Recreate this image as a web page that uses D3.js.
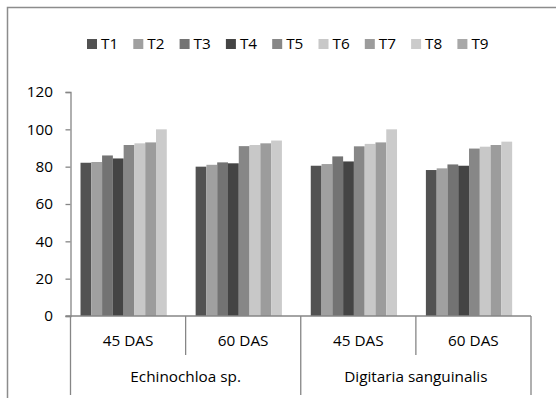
<!DOCTYPE html>
<html>
<head>
<meta charset="utf-8">
<script src="https://cdn.jsdelivr.net/npm/d3@7"></script>
<style>
  html, body { margin: 0; padding: 0; background: #fff; }
  svg { display: block; }
  text { font-family: "Open Sans", Lato, sans-serif; fill: #000; }
</style>
</head>
<body>
<svg id="chart" width="556" height="398"></svg>
<script>
// Sub-categories (days after sowing) grouped under the weed species
const categories = ["45 DAS", "60 DAS", "45 DAS", "60 DAS"];
const groups = ["Echinochloa sp.", "Digitaria sanguinalis"];
const series = ["T1", "T2", "T3", "T4", "T5", "T6", "T7", "T8", "T9"];
const seriesColors = ["#525252", "#a0a0a0", "#737373", "#444444", "#878787", "#c8c8c8", "#9c9c9c", "#cbcbcb", "#a8a8a8"];
const yTicks = [0, 20, 40, 60, 80, 100, 120];

// Weed control (%) per treatment, one array per category
const values = [
  [82.1, 82.5, 86.0, 84.4, 91.6, 92.5, 93.0, 100, 0],
  [80.0, 81.0, 82.3, 81.8, 91.0, 91.6, 92.5, 94.0, 0],
  [80.5, 81.4, 85.5, 82.8, 90.9, 92.2, 93.0, 100, 0],
  [78.2, 79.1, 81.2, 80.5, 89.7, 90.7, 91.6, 93.4, 0]
];

const svg = d3.select("#chart");
const axisColor = "#868686";
const fontFamily = "'Open Sans', Lato, sans-serif";
const fontSize = 15.3;

// Outer chart frame
svg.append("rect")
  .attr("x", 7.5).attr("y", 7.5)
  .attr("width", 560).attr("height", 400)
  .attr("fill", "none").attr("stroke", "#8c8c8c").attr("stroke-width", 1.5);

const plot = { left: 70.5, right: 531, top: 92, bottom: 316 };

const idx = d3.range(categories.length);
const x0 = d3.scaleBand().domain(idx).range([plot.left, plot.right]).padding(0);
const bw = x0.bandwidth();
const x1 = d3.scaleBand().domain(series).range([bw * 0.087, bw * 0.93]).padding(0);
const y = d3.scaleLinear().domain([0, 120]).range([plot.bottom, plot.top]);

// Bars
const g = svg.append("g");
idx.forEach(ci => {
  g.selectAll(null)
    .data(series.map((s, si) => ({ s, si, v: values[ci][si] })))
    .join("rect")
    .attr("x", d => x0(ci) + x1(d.s))
    .attr("y", d => y(d.v))
    .attr("width", x1.bandwidth())
    .attr("height", d => y(0) - y(d.v))
    .attr("fill", d => seriesColors[d.si]);
});

// Y axis
const yAxis = d3.axisLeft(y).tickValues(yTicks).tickSize(5).tickPadding(12.5);
const ya = svg.append("g").attr("transform", `translate(${plot.left},0)`).call(yAxis);
ya.select(".domain").attr("stroke", axisColor).attr("stroke-width", 1.3);
ya.selectAll(".tick line").attr("stroke", axisColor).attr("stroke-width", 1.3);
ya.selectAll(".tick text").attr("font-size", fontSize).attr("fill", "#000")
  .style("font-family", fontFamily);

// X axis baseline
svg.append("line")
  .attr("x1", plot.left - 5).attr("x2", plot.right)
  .attr("y1", y(0)).attr("y2", y(0))
  .attr("stroke", axisColor).attr("stroke-width", 1.3);

// Multi-level category dividers
const level1Bottom = 355, level2Bottom = 395;
d3.range(categories.length + 1).forEach(i => {
  const xp = i < categories.length ? x0(i) : plot.right;
  const outer = i % 2 === 0;
  svg.append("line")
    .attr("x1", xp).attr("x2", xp)
    .attr("y1", y(0)).attr("y2", outer ? level2Bottom : level1Bottom)
    .attr("stroke", axisColor).attr("stroke-width", 1.3);
});

// Sub-category labels
svg.selectAll(".cat")
  .data(categories)
  .join("text")
  .attr("x", (d, i) => x0(i) + bw / 2)
  .attr("y", 342)
  .attr("text-anchor", "middle")
  .attr("dominant-baseline", "middle")
  .attr("font-size", fontSize)
  .text(d => d);

// Group labels
svg.selectAll(".grp")
  .data(groups)
  .join("text")
  .attr("x", (d, i) => x0(i * 2) + bw)
  .attr("y", 378)
  .attr("text-anchor", "middle")
  .attr("dominant-baseline", "middle")
  .attr("font-size", fontSize)
  .text(d => d);

// Legend
const legend = svg.append("g");
series.forEach((s, i) => {
  const lx = 87 + i * 46.3;
  legend.append("rect")
    .attr("x", lx).attr("y", 39)
    .attr("width", 10).attr("height", 10)
    .attr("fill", seriesColors[i]);
  legend.append("text")
    .attr("x", lx + 14).attr("y", 44.5)
    .attr("dominant-baseline", "middle")
    .attr("font-size", fontSize)
    .text(s);
});
</script>
</body>
</html>
